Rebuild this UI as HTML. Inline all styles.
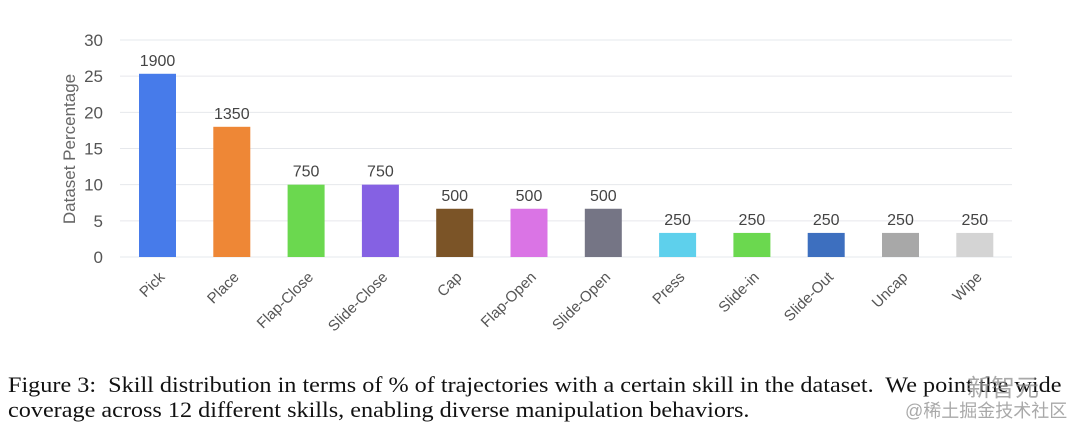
<!DOCTYPE html>
<html><head><meta charset="utf-8"><style>
body{margin:0;background:#fff;width:1080px;height:432px;overflow:hidden;position:relative}
svg{position:absolute;left:0;top:0}
.cap{position:absolute;left:8px;font-family:"Liberation Serif",serif;font-size:22px;color:#111;white-space:nowrap;transform-origin:0 0;transform:scaleX(1.1)}
.wm{position:absolute;font-family:"Liberation Sans","Noto Sans CJK SC",sans-serif;color:rgba(140,140,140,0.75)}
</style></head><body>
<svg width="1080" height="340" id="chart"></svg>
<div class="cap" style="top:372px">Figure 3:&nbsp; Skill distribution in terms of % of trajectories with a certain skill in the dataset.&nbsp; We point the wide</div>
<div class="cap" style="top:397px">coverage across 12 different skills, enabling diverse manipulation behaviors.</div>
<div class="wm" style="left:967px;top:368px;font-size:24px">新智元</div>
<div class="wm" style="left:905px;top:397px;font-size:18px">@稀土掘金技术社区</div>
<script>
const categories=["Pick","Place","Flap-Close","Slide-Close","Cap","Flap-Open","Slide-Open","Press","Slide-in","Slide-Out","Uncap","Wipe"];
const counts=[1900,1350,750,750,500,500,500,250,250,250,250,250];
const percents=[25.33,18,10,10,6.67,6.67,6.67,3.33,3.33,3.33,3.33,3.33];
const colors=["#477BEA","#EE8736","#6BD84F","#8561E3","#7B5427","#DA74E5","#757585","#5ED0EC","#6BD84F","#3D6FBF","#A8A8A8","#D4D4D4"];
const yTicks=[0,5,10,15,20,25,30];
const NS="http://www.w3.org/2000/svg";
const svg=document.getElementById('chart');
const y=v=>257-v*(217/30);
const x=i=>157.5+i*74.3;
function mk(t,a){const e=document.createElementNS(NS,t);for(const k in a)e.setAttribute(k,a[k]);svg.appendChild(e);return e;}
yTicks.forEach(t=>{
 const l=mk('line',{x1:120,x2:1012,y1:y(t),y2:y(t),stroke:'#e6e8ec','stroke-width':1});
 
 
 const tx=mk('text',{x:103,y:y(t)+6,'text-anchor':'end','font-size':17,fill:'#555','font-family':'Liberation Sans, sans-serif'});
 tx.textContent=t;
 
 
});
const yt=mk('text',{transform:'translate(75,149) rotate(-90)','text-anchor':'middle','font-size':17,fill:'#666','font-family':'Liberation Sans, sans-serif'});
yt.textContent='Dataset Percentage';


categories.forEach((c,i)=>{
 const b=mk('rect',{x:x(i)-18.5,y:y(percents[i]),width:37,height:257-y(percents[i]),fill:colors[i]});
 
 
 const v=mk('text',{x:x(i),y:y(percents[i])-8,'text-anchor':'middle','font-size':16,fill:'#444','font-family':'Liberation Sans, sans-serif'});
 v.textContent=counts[i];
 
 
 const l=mk('text',{transform:`translate(${x(i)+8},${278}) rotate(-45)`,'text-anchor':'end','font-size':15,fill:'#555','font-family':'Liberation Sans, sans-serif'});
 l.textContent=c;
 
 
});
</script>
</body></html>
